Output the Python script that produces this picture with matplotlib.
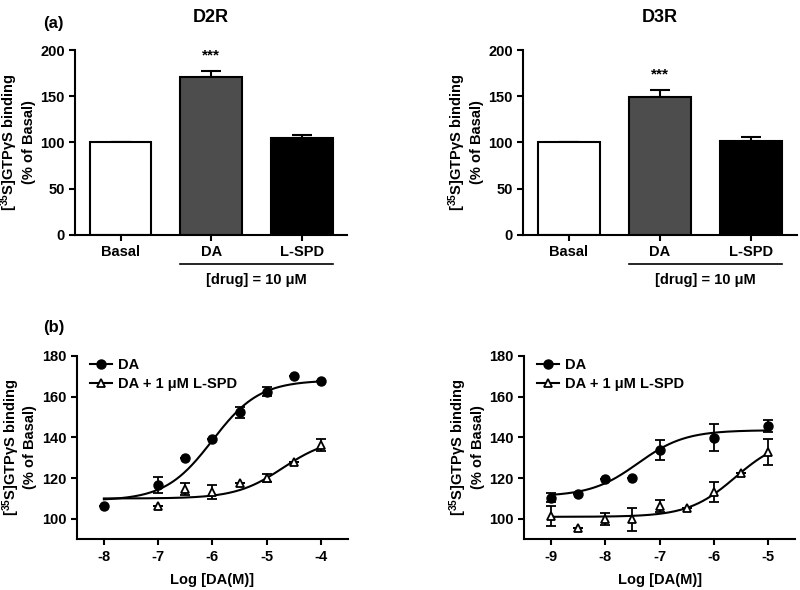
import numpy as np
import matplotlib
matplotlib.use("Agg")
import matplotlib.pyplot as plt

plt.rcParams["font.family"] = ["Liberation Sans", "DejaVu Sans"]
plt.rcParams["font.weight"] = "bold"
plt.rcParams["mathtext.fontset"] = "custom"
plt.rcParams["mathtext.rm"] = "Liberation Sans:bold"
plt.rcParams["mathtext.bf"] = "Liberation Sans:bold"
plt.rcParams["mathtext.it"] = "Liberation Sans:italic"

# --- (a) bar data ---
bar_labels = ["Basal", "DA", "L-SPD"]
bar_colors = ["white", "#4d4d4d", "black"]
d2r_bars = [100, 170.8, 104.5]
d2r_err = [0, 6.8, 3.3]
d3r_bars = [100, 149.5, 102]
d3r_err = [0, 7.3, 4.3]

# --- (b) D2R concentration-response ---
d2r_x_da = [-8, -7, -6.5, -6, -5.5, -5, -4.5, -4]
d2r_y_da = [106.2, 116.5, 129.9, 139.4, 152.3, 162.4, 170.2, 167.8]
d2r_e_da = [0, 4.0, 0, 0, 2.8, 2.3, 0, 0]
d2r_x_sp = [-7, -6.5, -6, -5.5, -5, -4.5, -4]
d2r_y_sp = [106.2, 114.6, 113.3, 117.6, 120.2, 127.8, 136.3]
d2r_e_sp = [0, 2.8, 3.5, 0, 2.0, 0, 2.8]
d2r_fit_da = (109.0, 168.0, -6.0)   # bottom, top, logEC50
d2r_fit_sp = (110.0, 140.0, -4.7)

# --- (b) D3R concentration-response ---
d3r_x_da = [-9, -8.5, -8, -7.5, -7, -6, -5]
d3r_y_da = [110.4, 112.4, 119.6, 120.2, 133.9, 139.8, 145.5]
d3r_e_da = [2.2, 0, 0, 0, 5.0, 6.5, 3.0]
d3r_x_sp = [-9, -8.5, -8, -7.5, -7, -6.5, -6, -5.5, -5]
d3r_y_sp = [101.4, 95.7, 99.8, 99.7, 106.3, 105.2, 113.2, 122.7, 132.8]
d3r_e_sp = [5.0, 0, 3.0, 5.8, 2.8, 0, 5.0, 0, 6.5]
d3r_fit_da = (111.0, 143.5, -7.4)
d3r_fit_sp = (101.0, 140.0, -5.6)

ylab = "[$^{35}$S]GTPγS binding\n(% of Basal)"


def style_axes(ax):
    for s in ["top", "right"]:
        ax.spines[s].set_visible(False)
    for s in ["left", "bottom"]:
        ax.spines[s].set_linewidth(1.5)
    ax.tick_params(width=1.5, length=4, labelsize=10.5)
    for t in ax.get_xticklabels() + ax.get_yticklabels():
        t.set_fontweight("bold")
    ax.set_ylabel(ylab, fontsize=10.5, fontweight="bold", linespacing=1.15)
    ax.yaxis.set_label_coords(-0.145, 0.5)


def bar_panel(ax, vals, errs, title):
    x = np.arange(len(vals))
    ax.bar(x, vals, width=0.68, color=bar_colors, edgecolor="black", linewidth=1.5, zorder=2)
    ax.errorbar(x, vals, yerr=[np.zeros(len(errs)), errs], fmt="none", ecolor="black",
                elinewidth=1.5, capsize=7, capthick=1.5, zorder=1)
    ax.set_xlim(-0.5, 2.5)
    ax.set_ylim(0, 200)
    ax.set_yticks([0, 50, 100, 150, 200])
    ax.set_xticks(x)
    ax.set_xticklabels(bar_labels)
    ax.text(1, vals[1] + errs[1] + 17, "***", ha="center", va="center", fontsize=11)
    ax.set_title(title, fontsize=13, fontweight="bold", pad=20)
    # bracket under DA and L-SPD
    ax.plot([1 - 0.34, 2 + 0.34], [-0.16, -0.16], color="black", lw=1.2,
            transform=ax.get_xaxis_transform(), clip_on=False)
    ax.text(1.5, -0.245, "[drug] = 10 μM", ha="center", va="center", fontsize=10.5,
            fontweight="bold", transform=ax.get_xaxis_transform())
    style_axes(ax)


def logistic(x, p):
    bottom, top, ec = p
    return bottom + (top - bottom) / (1 + 10 ** (ec - x))


def curve_panel(ax, xda, yda, eda, xsp, ysp, esp, pda, psp, xlim, xticks):
    xs = np.linspace(xticks[0], xticks[-1], 200)
    ax.plot(xs, logistic(xs, pda), color="black", lw=1.5)
    ax.plot(xs, logistic(xs, psp), color="black", lw=1.5)
    ax.errorbar(xda, yda, yerr=eda, fmt="none", ecolor="black", elinewidth=1.3,
                capsize=3.8, capthick=1.3)
    ax.errorbar(xsp, ysp, yerr=esp, fmt="none", ecolor="black", elinewidth=1.3,
                capsize=3.8, capthick=1.3)
    ax.plot(xda, yda, "o", color="black", ms=6.5, zorder=3)
    ax.plot(xsp, ysp, "^", mfc="white", mec="black", mew=1.3, ms=6, zorder=3)
    ax.plot([], [], "-o", color="black", ms=6.5, lw=1.5, label="DA")
    ax.plot([], [], "-^", color="black", mfc="white", mec="black", mew=1.3, ms=6, lw=1.5,
            label="DA + 1 μM L-SPD")
    leg = ax.legend(loc="upper left", bbox_to_anchor=(0.0, 1.06), frameon=False,
                    fontsize=10.5, handlelength=1.5, handletextpad=0.4, labelspacing=0.35)
    for t in leg.get_texts():
        t.set_fontweight("bold")
    ax.set_xlim(xlim)
    ax.set_ylim(90, 180)
    ax.set_yticks([100, 120, 140, 160, 180])
    ax.set_xticks(xticks)
    ax.set_xticklabels([str(v) for v in xticks])
    ax.spines["left"].set_bounds(90, 180)
    ax.set_xlabel("Log [DA(M)]", fontsize=10.5, fontweight="bold", labelpad=7)
    style_axes(ax)


fig = plt.figure(figsize=(8, 5.9), dpi=100)

ax1 = fig.add_axes([0.094, 0.602, 0.340, 0.313])
ax2 = fig.add_axes([0.654, 0.602, 0.342, 0.313])
ax3 = fig.add_axes([0.096, 0.086, 0.339, 0.311])
ax4 = fig.add_axes([0.655, 0.086, 0.339, 0.311])

bar_panel(ax1, d2r_bars, d2r_err, "D2R")
bar_panel(ax2, d3r_bars, d3r_err, "D3R")

curve_panel(ax3, d2r_x_da, d2r_y_da, d2r_e_da, d2r_x_sp, d2r_y_sp, d2r_e_sp,
            d2r_fit_da, d2r_fit_sp, (-8.5, -3.5), [-8, -7, -6, -5, -4])
curve_panel(ax4, d3r_x_da, d3r_y_da, d3r_e_da, d3r_x_sp, d3r_y_sp, d3r_e_sp,
            d3r_fit_da, d3r_fit_sp, (-9.5, -4.5), [-9, -8, -7, -6, -5])

fig.text(0.054, 0.953, "(a)", fontsize=12, fontweight="bold")
fig.text(0.054, 0.438, "(b)", fontsize=12, fontweight="bold")

fig.savefig("out.png", dpi=100)
